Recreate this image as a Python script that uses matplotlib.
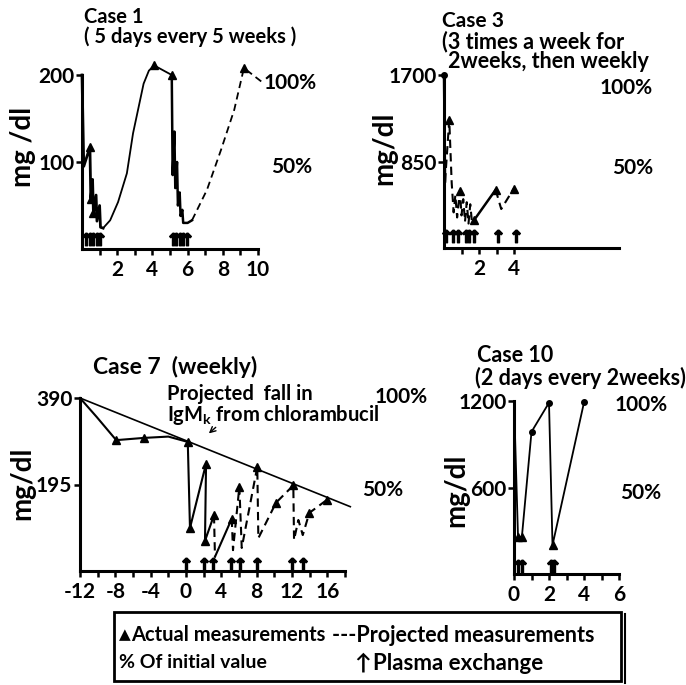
import numpy as np
import matplotlib
matplotlib.use('Agg')
import matplotlib.pyplot as plt
from matplotlib.patches import Rectangle
from matplotlib.lines import Line2D

plt.rcParams['font.family'] = ['Lato', 'DejaVu Sans']
plt.rcParams['font.weight'] = 'bold'

# Case 1 (weeks, mg/dl)
c1_solid_x = [0, 0.1, 0.45, 0.5, 0.6, 0.65, 0.8, 0.85, 1.0, 1.05, 1.2, 1.6, 2.05, 2.55, 2.9, 3.5, 3.8, 4.1,
              5.1, 5.15, 5.25, 5.3, 5.4, 5.45, 5.55, 5.6, 5.7, 5.75, 6.0, 6.25]
c1_solid_y = [200, 95, 117, 58, 80, 41, 62, 32, 50, 25, 24, 33, 54, 87, 133, 190, 205, 211,
              200, 85, 135, 70, 100, 50, 65, 38, 45, 30, 30, 33]
c1_proj_x = [6.25, 7.1, 7.9, 8.65, 9.2, 10.35]
c1_proj_y = [33, 68, 114, 160, 208, 190]
c1_tri_x = [0.45, 0.5, 0.65, 4.1, 5.1, 9.2]
c1_tri_y = [117, 58, 41, 211, 200, 208]
c1_pe = [0.2, 0.45, 0.65, 0.85, 1.05, 5.15, 5.35, 5.55, 5.75, 5.95]

# Case 3
c3_solid_x = [[0, 0.06], [1.71, 2.95]]
c3_solid_y = [[1700, 654], [272, 572]]
c3_proj_x = [[0.06, 0.3, 0.44, 0.55, 0.65, 0.75, 0.91, 1.0, 1.1, 1.2, 1.3, 1.4, 1.5, 1.6, 1.71],
             [2.95, 3.27, 3.98]]
c3_proj_y = [[654, 1258, 638, 350, 520, 300, 562, 320, 480, 260, 450, 240, 430, 250, 272],
             [572, 383, 582]]
c3_tri_x = [0.3, 0.91, 1.71, 2.95, 3.98]
c3_tri_y = [1258, 562, 272, 572, 582]
c3_pe = [0.1, 0.5, 0.8, 1.25, 1.4, 1.7, 3.1, 4.1]

# Case 7
c7_solid_x = [[-12, -10.1, -7.9, -4.8, -2, 0.2, 0.45, 2.27, 2.15, 3.17], [3.28, 5.18]]
c7_solid_y = [[390, 347, 295, 300, 303, 291, 97, 242, 68, 126], [32, 118]]
c7_proj_x = [[3.17, 3.28],
             [5.18, 5.32, 6.04, 6.31, 8.07, 8.19, 10.19, 12.15, 12.23, 12.72, 13.22, 13.96, 15.93]]
c7_proj_y = [[126, 32],
             [118, 47, 190, 52, 235, 74, 154, 193, 70, 115, 81, 131, 160]]
c7_tri_x = [-7.9, -4.8, 0.2, 0.45, 2.27, 2.15, 3.17, 5.18, 6.04, 8.07, 10.19, 12.15, 13.96, 15.93]
c7_tri_y = [295, 300, 291, 97, 242, 68, 126, 118, 190, 235, 154, 193, 131, 160]
c7_fall_x = [-12, 18.6]
c7_fall_y = [390, 145]
c7_pe = [0, 2.05, 3.1, 5.1, 6.1, 8.0, 12.0, 13.2]

# Case 10
c10_x = [0, 0.23, 0.45, 1.0, 2.0, 2.2, 4.0]
c10_y = [1200, 257, 257, 986, 1188, 200, 1190]
c10_tri_x = [0.23, 0.45, 2.2]
c10_tri_y = [257, 257, 200]
c10_dot_x = [1.0, 2.0, 4.0]
c10_dot_y = [986, 1188, 1190]
c10_pe = [0.2, 0.45, 2.1, 2.3]

W, H = 686, 685
fig = plt.figure(figsize=(6.86, 6.85), dpi=100)


def fx(x):
    return x / W


def fy(y):
    return 1 - y / H


def ftext(x, y, s, size=15, ha='left', **kw):
    fig.text(fx(x), fy(y), s, fontsize=size, va='center', ha=ha, **kw)


def panel(x0, x1, y0, y1, xlim, ylim, xt, xtl, yt):
    ax = fig.add_axes([fx(x0), fy(y0), (x1 - x0) / W, (y0 - y1) / H])
    ax.set_xlim(xlim)
    ax.set_ylim(ylim)
    for s in ['top', 'right']:
        ax.spines[s].set_visible(False)
    for s in ['left', 'bottom']:
        ax.spines[s].set_linewidth(2.2)
    ax.tick_params(direction='out', length=4, width=1.8, labelsize=15, pad=1.5)
    ax.tick_params(axis='x', pad=4)
    ax.set_xticks(xt)
    ax.set_xticklabels(xtl)
    ax.set_yticks(yt)
    ax.set_yticklabels([str(v) for v in yt])
    ax.patch.set_alpha(0)
    return ax


def solid(ax, x, y, lw=1.3):
    ax.plot(x, y, '-', color='k', lw=lw, clip_on=False)


def dashed(ax, x, y, lw=1.3):
    ax.plot(x, y, '--', color='k', lw=lw, dashes=(4, 2.5), clip_on=False)


def tri(ax, x, y):
    ax.plot(x, y, '^', color='k', ms=6, ls='none', clip_on=False)


def pe(ax, x, y):
    ax.plot(x, [y] * len(x), marker=r'$\uparrow$', color='k', ms=9, ls='none', clip_on=False)


# Case 1
ax1 = panel(82, 258, 249, 75, (0, 10), (0, 200), range(1, 11),
            ['', '2', '', '4', '', '6', '', '8', '', '10'], [100, 200])
solid(ax1, c1_solid_x[:11], c1_solid_y[:11], lw=2)
solid(ax1, c1_solid_x[10:19], c1_solid_y[10:19])
solid(ax1, c1_solid_x[18:], c1_solid_y[18:], lw=1.8)
dashed(ax1, c1_proj_x, c1_proj_y)
tri(ax1, c1_tri_x, c1_tri_y)
pe(ax1, c1_pe, 12)
ftext(84, 17, 'Case 1', size=14.5)
ftext(84, 37, '( 5 days every 5 weeks )', size=14.5)
ftext(264, 83, '100%')
ftext(271, 167, '50%')
ftext(23, 147, 'mg /dl', size=20, rotation=90, ha='center')

# Case 3
ax3 = panel(444, 619, 248, 75, (0, 10), (0, 1700), [1, 2, 3, 4], ['', '2', '', '4'], [850, 1700])
for x, y in zip(c3_solid_x, c3_solid_y):
    solid(ax3, x, y, lw=1.8)
for x, y in zip(c3_proj_x, c3_proj_y):
    dashed(ax3, x, y, lw=1.5)
tri(ax3, c3_tri_x, c3_tri_y)
ax3.plot([0], [1700], 'o', color='k', ms=4, clip_on=False)
pe(ax3, c3_pe, 120)
ftext(442, 21, 'Case 3', size=15)
ftext(442, 42, '(3 times a week for', size=15.5)
ftext(448, 62, '2weeks, then weekly', size=15.5)
ftext(600, 88, '100%')
ftext(612, 168, '50%')
ftext(384, 148, 'mg/dl', size=20, rotation=90, ha='center')

# Case 7
ax7 = panel(80, 345, 571, 398, (-12, 18), (0, 390), range(-12, 19, 2),
            [str(v) if v % 4 == 0 else '' for v in range(-12, 19, 2)], [195, 390])
for x, y in zip(c7_solid_x, c7_solid_y):
    solid(ax7, x, y, lw=1.5)
for x, y in zip(c7_proj_x, c7_proj_y):
    dashed(ax7, x, y, lw=1.5)
solid(ax7, c7_fall_x, c7_fall_y, lw=1.2)
tri(ax7, c7_tri_x, c7_tri_y)
pe(ax7, c7_pe, 15)
ax7.annotate('', xy=(2.35, 306), xytext=(3.6, 328),
             arrowprops=dict(arrowstyle='->', color='k', lw=1))
ftext(93, 367, 'Case 7  (weekly)', size=16.5)
ftext(167, 394, 'Projected  fall in', size=14.5)
ftext(167, 415, r'IgM$_{\mathregular{k}}$ from chlorambucil', size=14.5)
ftext(375, 397, '100%')
ftext(362, 490, '50%')
ftext(22, 483, 'mg/dl', size=20, rotation=90, ha='center')

# Case 10
ax10 = panel(514, 619, 574, 401, (0, 6), (0, 1200), range(0, 7),
             ['0', '', '2', '', '4', '', '6'], [600, 1200])
solid(ax10, c10_x, c10_y)
tri(ax10, c10_tri_x, c10_tri_y)
ax10.plot(c10_dot_x, c10_dot_y, 'o', color='k', ms=4, ls='none', clip_on=False)
pe(ax10, c10_pe, 57)
ftext(477, 356, 'Case 10', size=15.5)
ftext(475, 378, '(2 days every 2weeks)', size=15.5)
ftext(615, 405, '100%')
ftext(620, 493, '50%')
ftext(456, 490, 'mg/dl', size=20, rotation=90, ha='center')

# legend box
fig.add_artist(Rectangle((fx(114), fy(681)), (621 - 114) / W, (681 - 612) / H, fill=False,
                         lw=2, color='k', transform=fig.transFigure))
fig.add_artist(Line2D([fx(625), fx(625)], [fy(683), fy(614)], lw=1.5, color='k',
                      transform=fig.transFigure))
ftext(119, 635, '\u25b2', size=11)
ftext(131, 635, 'Actual measurements', size=14.5)
ftext(332, 635, '---Projected measurements', size=15.5)
ftext(119, 663, '% Of initial value', size=14)
ftext(354, 663, '\u2191', size=16)
ftext(373, 663, 'Plasma exchange', size=16)

fig.savefig('out.png', dpi=100)
